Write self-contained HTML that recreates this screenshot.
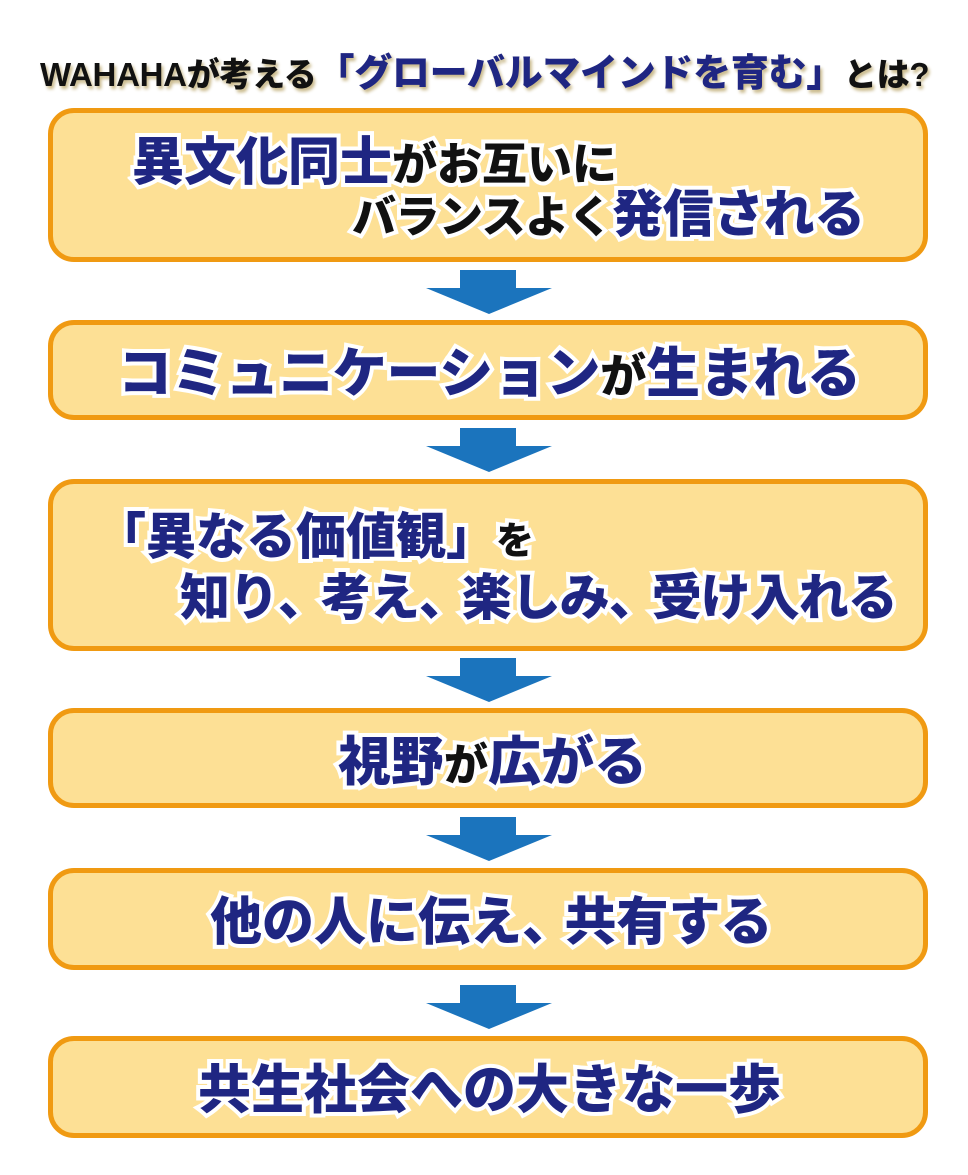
<!DOCTYPE html>
<html><head><meta charset="utf-8"><style>
body{margin:0;width:968px;height:1175px;background:#fff;position:relative;overflow:hidden;font-family:"Liberation Sans","Noto Sans CJK JP",sans-serif;font-weight:900}
.box{position:absolute;left:48px;width:870px;background:#fde095;border:5px solid #f09a12;border-radius:26px}
.t{position:absolute;white-space:nowrap;font-weight:900;-webkit-text-stroke:8px #fff;paint-order:stroke fill;letter-spacing:0}
.b{color:#1f2682}.k{color:#111}
.arr{position:absolute;left:425px;width:128px;height:46px}
</style></head><body>
<div class="t k" style="left:40px;top:42px;font-size:33px;letter-spacing:-0.3px;text-shadow:2px 3px 3px #c9b98a">WAHAHAが考える<span class="b" style="font-size:38px">「グローバルマインドを育む」</span>とは?</div>

<div class="box" style="top:108px;height:144px"></div>
<div class="t" style="left:132px;top:120px;font-size:52px"><span class="b">異文化同士</span><span class="k" style="font-size:45px">がお互いに</span></div>
<div class="t" style="left:352px;top:173px;font-size:51px;letter-spacing:-0.5px"><span class="k" style="font-size:44px">バランスよく</span><span class="b">発信される</span></div>

<svg class="arr" style="top:270px" viewBox="0 0 128 46"><path d="M35 0H91V18H127L64 44L1 18H35Z" fill="#1b74bd"/></svg>

<div class="box" style="top:320px;height:90px"></div>
<div class="t b" style="left:118px;top:329px;font-size:54px;letter-spacing:-0.3px">コミュニケーション<span class="k" style="font-size:46px">が</span>生まれる</div>

<svg class="arr" style="top:428px" viewBox="0 0 128 46"><path d="M35 0H91V18H127L64 44L1 18H35Z" fill="#1b74bd"/></svg>

<div class="box" style="top:479px;height:162px"></div>
<div class="t" style="left:96px;top:497px;font-size:50px"><span class="b">「異なる価値観」</span><span class="k" style="font-size:38px">を</span></div>
<div class="t b" style="left:180px;top:558px;font-size:50px;letter-spacing:-1px">知り<span style="letter-spacing:-20px">、</span> 考え<span style="letter-spacing:-20px">、</span> 楽しみ<span style="letter-spacing:-20px">、</span> 受け入れる</div>

<svg class="arr" style="top:658px" viewBox="0 0 128 46"><path d="M35 0H91V18H127L64 44L1 18H35Z" fill="#1b74bd"/></svg>

<div class="box" style="top:708px;height:90px"></div>
<div class="t b" style="left:338px;top:720px;font-size:53px">視野<span class="k" style="font-size:44px">が</span>広がる</div>

<svg class="arr" style="top:817px" viewBox="0 0 128 46"><path d="M35 0H91V18H127L64 44L1 18H35Z" fill="#1b74bd"/></svg>

<div class="box" style="top:868px;height:92px"></div>
<div class="t b" style="left:210px;top:880px;font-size:52px">他の人に伝え<span style="letter-spacing:-24px">、</span> 共有する</div>

<svg class="arr" style="top:985px" viewBox="0 0 128 46"><path d="M35 0H91V18H127L64 44L1 18H35Z" fill="#1b74bd"/></svg>

<div class="box" style="top:1036px;height:92px"></div>
<div class="t b" style="left:198px;top:1048px;font-size:53px">共生社会への大きな一歩</div>
</body></html>
